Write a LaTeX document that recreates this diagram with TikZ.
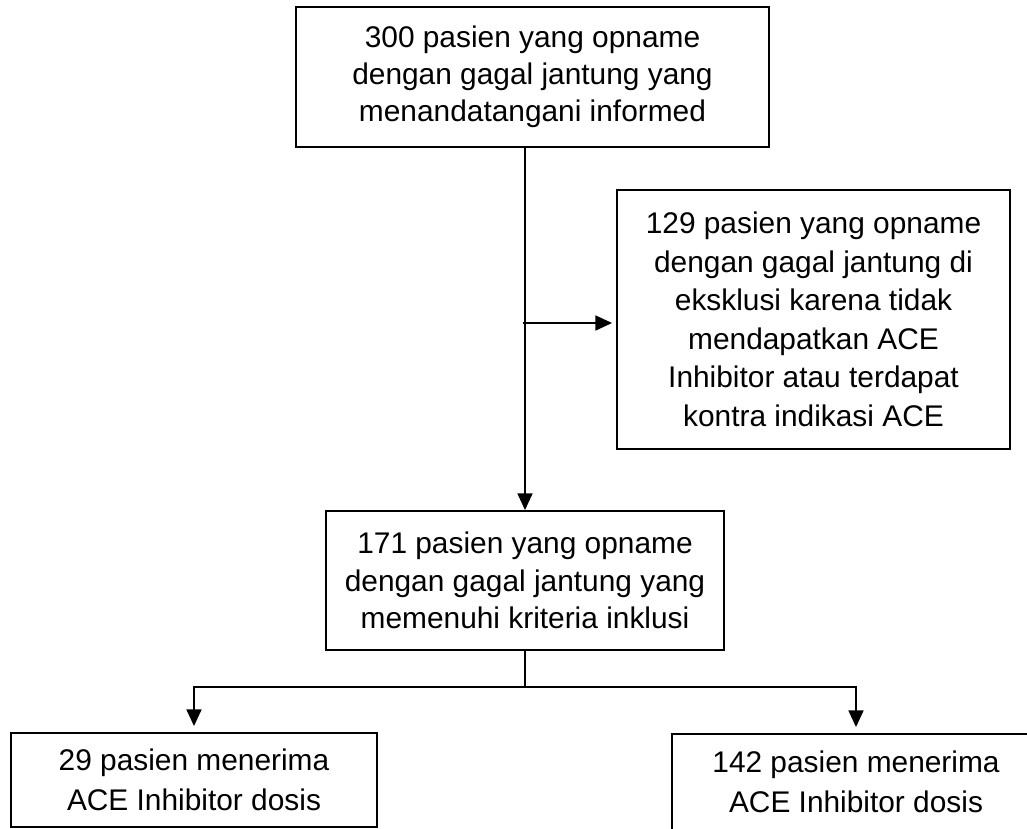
\documentclass[tikz,border=0pt]{standalone}
\usepackage{fontspec}
\setmainfont{Liberation Sans}
\usetikzlibrary{arrows.meta,calc}
\begin{document}
\begin{tikzpicture}[x=0.75pt,y=-0.75pt,
  box/.style={draw=black,line width=1.3pt,align=center,inner sep=0pt,text=black},
  conn/.style={draw=black,line width=1.9pt},
  arr/.style={conn,-{Triangle[length=12.5pt,width=11pt]}}]
\useasboundingbox (0,0) rectangle (1027,828);
\clip (0,0) rectangle (1027,828);
\node[box,minimum width=354.75pt,minimum height=105pt,font={\fontsize{22.4}{27.6}\selectfont}] (top) at (532.5,77)
  {300 pasien yang opname\\dengan gagal jantung yang\\menandatangani informed};
\node[box,minimum width=294.75pt,minimum height=194.25pt,font={\fontsize{22.4}{28.9}\selectfont}] (right) at (813.5,319.5)
  {129 pasien yang opname\\dengan gagal jantung di\\eksklusi karena tidak\\mendapatkan ACE\\Inhibitor atau terdapat\\kontra indikasi ACE};
\node[box,minimum width=298.5pt,minimum height=104.25pt,font={\fontsize{22.4}{28.1}\selectfont}] (mid) at (525,580.5)
  {171 pasien yang opname\\dengan gagal jantung yang\\memenuhi kriteria inklusi};
\node[box,minimum width=274.5pt,minimum height=70.5pt,font={\fontsize{22.4}{30}\selectfont}] (leftb) at (194,780)
  {29 pasien menerima\\ACE Inhibitor dosis};
\node[box,minimum width=276pt,minimum height=72pt,font={\fontsize{22.4}{30}\selectfont}] (rightb) at (856,782)
  {142 pasien menerima\\ACE Inhibitor dosis};
\coordinate (j1) at ([xshift=-1.5pt]mid.north |- 0,323);
\coordinate (j2) at ($(mid.south)+(0,36)$);
\draw[arr] (top.south -| mid.north) -- (mid.north);
\draw[arr,shorten >=3pt] (j1) -- (j1 -| right.west);
\draw[conn] (mid.south) -- (j2);
\draw[arr,shorten >=4.5pt] (j2) -| (leftb.north);
\draw[arr,shorten >=4.5pt] (j2) -| (rightb.north);
\end{tikzpicture}
\end{document}
